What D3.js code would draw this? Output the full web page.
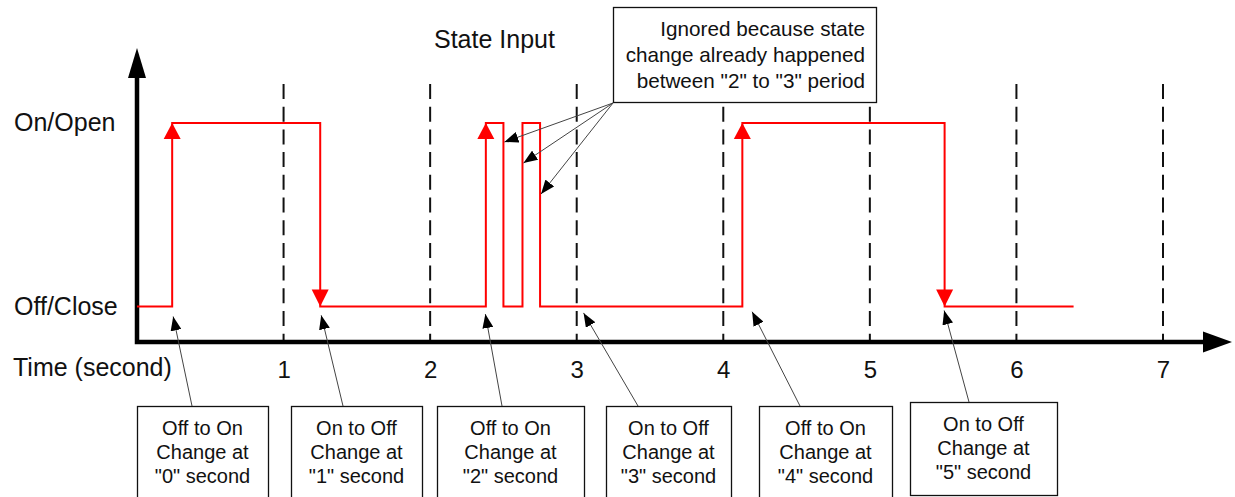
<!DOCTYPE html>
<html lang="en">
<head>
<meta charset="UTF-8" />
<title>State Input</title>
<script src="https://d3js.org/d3.v7.min.js"></script>
<style>
  body { margin: 0; background: #fff; }
  svg { display: block; font-family: "Liberation Sans", Arial, sans-serif; }
</style>
</head>
<body>
<svg width="1235" height="497"></svg>
<script>
// signal: time (s) of each step and state after it (0 = off, 1 = on)
const stepTimes = [0, 0.24, 1.25, 2.38, 2.5, 2.63, 2.75, 4.13, 5.51, 6.39];
const stepStates = [0, 1, 0, 1, 0, 1, 0, 1, 0, 0];
const arrowedSteps = [1, 2, 3, 7, 8];   // transitions that count
const ignoredSteps = [4, 5, 6];         // transitions ignored
const stateLabels = ['Off/Close', 'On/Open'];
const tickValues = [1, 2, 3, 4, 5, 6, 7];

const calloutTexts = [
  ['Off to On', 'Change at', '"0" second'],
  ['On to Off', 'Change at', '"1" second'],
  ['Off to On', 'Change at', '"2" second'],
  ['On to Off', 'Change at', '"3" second'],
  ['Off to On', 'Change at', '"4" second'],
  ['On to Off', 'Change at', '"5" second']
];
const calloutTargets = [0.24, 1.25, 2.37, 3.04, 4.19, 5.5];
const noteLines = ['Ignored because state', 'change already happened', 'between "2" to "3" period'];

// layout
const boxLayout = [
  { x0: 137, x1: 268, top: 406, from: 192 },
  { x0: 291, x1: 422, top: 406, from: 343 },
  { x0: 437, x1: 584, top: 406, from: 502 },
  { x0: 606, x1: 731, top: 406, from: 638 },
  { x0: 759, x1: 892, top: 406, from: 800 },
  { x0: 910, x1: 1057, top: 402, from: 969, bottom: 495 }
];
const noteTipY = [142, 163, 194];

const svg = d3.select('svg');
const x = d3.scaleLinear().domain([0, 7]).range([137, 1163]);
const y = d3.scaleLinear().domain([0, 1]).range([306.5, 123]);
const axisY = 342;
const gridTop = 84;

// arrowhead marker for annotations
svg.append('defs').append('marker')
  .attr('id', 'tip')
  .attr('viewBox', '0 0 14 11')
  .attr('refX', 14).attr('refY', 5.5)
  .attr('markerWidth', 14).attr('markerHeight', 11)
  .attr('markerUnits', 'userSpaceOnUse')
  .attr('orient', 'auto')
  .append('path').attr('d', 'M0,0 L14,5.5 L0,11 Z').attr('fill', '#000');

// dashed time grid
svg.append('g').selectAll('line').data(tickValues).enter().append('line')
  .attr('x1', d => x(d)).attr('x2', d => x(d))
  .attr('y1', gridTop).attr('y2', axisY)
  .attr('stroke', '#111').attr('stroke-width', 2)
  .attr('stroke-dasharray', '15,7.7');

// tick labels
const xAxis = svg.append('g')
  .attr('transform', `translate(0,${axisY})`)
  .call(d3.axisBottom(x).tickValues(tickValues).tickSize(0).tickPadding(19).tickFormat(d3.format('d')));
xAxis.select('.domain').remove();
xAxis.selectAll('text').attr('font-size', 24).attr('fill', '#111')
  .attr('font-family', '"Liberation Sans", Arial, sans-serif');

// axes with arrows
svg.append('path')
  .attr('d', `M${x(0)},76 V${axisY} H1205`)
  .attr('fill', 'none').attr('stroke', '#000').attr('stroke-width', 4.5);
svg.append('path').attr('d', `M1203,331.5 L1232,${axisY} L1203,352.5 Z`).attr('fill', '#000');
svg.append('path').attr('d', `M128,78 L${x(0)},48 L146,78 Z`).attr('fill', '#000');

// axis texts
svg.append('g').selectAll('text').data(stateLabels).enter().append('text')
  .attr('x', 14).attr('y', (d, i) => y(i) + 8)
  .attr('font-size', 25).attr('fill', '#111')
  .text(d => d);
svg.append('text').attr('x', 13).attr('y', 376)
  .attr('font-size', 25).attr('fill', '#111').text('Time (second)');
svg.append('text').attr('x', 434).attr('y', 48)
  .attr('font-size', 25).attr('fill', '#111').text('State Input');

// signal
const points = stepTimes.map((t, i) => ({ t: t, s: stepStates[i] }));
svg.append('path')
  .datum(points)
  .attr('d', d3.line().x(d => x(d.t)).y(d => y(d.s)).curve(d3.curveStepAfter))
  .attr('fill', 'none').attr('stroke', '#ff0000').attr('stroke-width', 2);

svg.append('g').selectAll('path').data(arrowedSteps).enter().append('path')
  .attr('d', i => {
    const px = x(stepTimes[i]);
    const up = stepStates[i] === 1;
    const tip = y(stepStates[i]);
    const base = up ? tip + 16 : tip - 17;
    return `M${px - 8.5},${base} L${px},${tip} L${px + 8.5},${base} Z`;
  })
  .attr('fill', '#ff0000');

// note box at the top
svg.append('rect').attr('x', 613.5).attr('y', 7.5).attr('width', 263).attr('height', 95)
  .attr('fill', '#fff').attr('stroke', '#111').attr('stroke-width', 1.3);
svg.append('g').selectAll('text').data(noteLines).enter().append('text')
  .attr('x', 865).attr('y', (d, i) => 36 + 26 * i)
  .attr('text-anchor', 'end').attr('font-size', 20.7).attr('fill', '#111')
  .text(d => d);
svg.append('g').selectAll('line').data(ignoredSteps).enter().append('line')
  .attr('x1', 613).attr('y1', 103)
  .attr('x2', i => x(stepTimes[i]) + 1)
  .attr('y2', (i, k) => noteTipY[k])
  .attr('stroke', '#444').attr('stroke-width', 1)
  .attr('marker-end', 'url(#tip)');

// callout boxes at the bottom
const callouts = svg.append('g').selectAll('g').data(calloutTexts).enter().append('g');
callouts.append('line')
  .attr('x1', (d, i) => boxLayout[i].from).attr('y1', (d, i) => boxLayout[i].top)
  .attr('x2', (d, i) => x(calloutTargets[i]) + 1)
  .attr('y2', (d, i) => y(0) + 10 - i * 1.2)
  .attr('stroke', '#444').attr('stroke-width', 1)
  .attr('marker-end', 'url(#tip)');
callouts.append('rect')
  .attr('x', (d, i) => boxLayout[i].x0 + 0.5)
  .attr('y', (d, i) => boxLayout[i].top + 0.5)
  .attr('width', (d, i) => boxLayout[i].x1 - boxLayout[i].x0)
  .attr('height', (d, i) => (boxLayout[i].bottom || 520) - boxLayout[i].top)
  .attr('fill', '#fff').attr('stroke', '#111').attr('stroke-width', 1.3);
callouts.each(function (lines, i) {
  const b = boxLayout[i];
  d3.select(this).selectAll('text').data(lines).enter().append('text')
    .attr('x', (b.x0 + b.x1) / 2)
    .attr('y', (d, k) => b.top + 29 + 24 * k)
    .attr('text-anchor', 'middle').attr('font-size', 20).attr('fill', '#111')
    .text(d => d);
});
</script>
</body>
</html>
